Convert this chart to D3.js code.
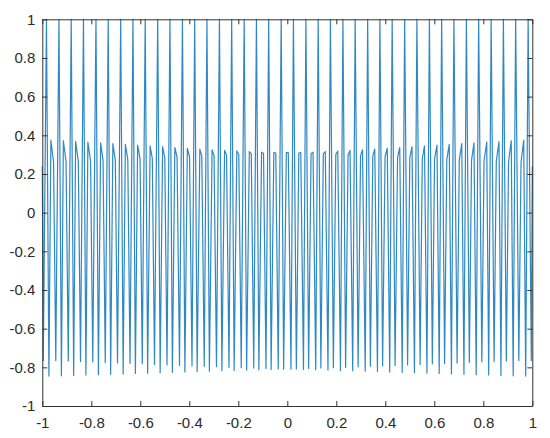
<!DOCTYPE html>
<html>
<head>
<meta charset="utf-8">
<script src="https://cdn.jsdelivr.net/npm/d3@7"></script>
<style>
  html, body { margin: 0; padding: 0; background: #ffffff; }
  svg { display: block; }
</style>
</head>
<body>
<svg id="chart" width="550" height="438"></svg>
<script>
// ---- data (data units) ----
const xTicks = [-1, -0.8, -0.6, -0.4, -0.2, 0, 0.2, 0.4, 0.6, 0.8, 1];
const yTicks = [-1, -0.8, -0.6, -0.4, -0.2, 0, 0.2, 0.4, 0.6, 0.8, 1];

// curve end points
const startPoint = [-1.0, 0.24];
const startTrough = [-0.996, -0.765];
const endTrough = [0.996, -0.765];
const endPoint = [1.0, 0.24];

// tall spikes (reach 1)
const peakX = [-0.983, -0.932, -0.882, -0.832, -0.781, -0.731, -0.680, -0.630, -0.580, -0.529,
               -0.479, -0.428, -0.378, -0.328, -0.277, -0.227, -0.176, -0.126, -0.076, -0.025,
                0.025,  0.076,  0.126,  0.176,  0.227,  0.277,  0.328,  0.378,  0.428,  0.479,
                0.529,  0.580,  0.630,  0.680,  0.731,  0.781,  0.832,  0.882,  0.932,  0.983];
const peakY = [1, 1, 1, 1, 1, 1, 1, 1, 1, 1, 1, 1, 1, 1, 1, 1, 1, 1, 1, 1,
               1, 1, 1, 1, 1, 1, 1, 1, 1, 1, 1, 1, 1, 1, 1, 1, 1, 1, 1, 1];

// first trough after each spike
const troughAX = [-0.973, -0.922, -0.872, -0.822, -0.771, -0.721, -0.670, -0.620, -0.570, -0.519,
                  -0.469, -0.418, -0.368, -0.318, -0.267, -0.217, -0.166, -0.116, -0.066, -0.015,
                   0.037,  0.087,  0.137,  0.188,  0.238,  0.289,  0.339,  0.389,  0.440,  0.491,
                   0.542,  0.592,  0.642,  0.693,  0.743,  0.794,  0.844,  0.894,  0.945];
const troughAY = [-0.845, -0.844, -0.842, -0.840, -0.838, -0.836, -0.834, -0.832, -0.830, -0.828,
                  -0.826, -0.824, -0.822, -0.820, -0.818, -0.816, -0.814, -0.812, -0.811, -0.810,
                  -0.808, -0.806, -0.804, -0.802, -0.800, -0.797, -0.795, -0.792, -0.790, -0.787,
                  -0.785, -0.782, -0.780, -0.777, -0.775, -0.772, -0.770, -0.767, -0.765];

// secondary hump: first top point
const secondAX = [-0.965, -0.914, -0.864, -0.814, -0.762, -0.712, -0.661, -0.611, -0.560, -0.509,
                  -0.459, -0.408, -0.357, -0.307, -0.256, -0.206, -0.155, -0.105, -0.055, -0.004,
                   0.047,  0.097,  0.147,  0.198,  0.248,  0.299,  0.349,  0.399,  0.450,  0.500,
                   0.551,  0.601,  0.651,  0.702,  0.752,  0.803,  0.853,  0.903,  0.954];
const secondAY = [0.375, 0.372, 0.368, 0.365, 0.361, 0.357, 0.353, 0.349, 0.345, 0.341,
                  0.337, 0.333, 0.329, 0.325, 0.322, 0.319, 0.316, 0.313, 0.311, 0.310,
                  0.308, 0.306, 0.304, 0.301, 0.298, 0.295, 0.292, 0.289, 0.286, 0.283,
                  0.280, 0.278, 0.275, 0.272, 0.270, 0.267, 0.265, 0.262, 0.260];

// secondary hump: second top point
const secondBX = [-0.954, -0.903, -0.853, -0.803, -0.752, -0.702, -0.651, -0.601, -0.551, -0.500,
                  -0.450, -0.399, -0.349, -0.299, -0.248, -0.198, -0.147, -0.097, -0.047,  0.004,
                   0.055,  0.105,  0.155,  0.206,  0.256,  0.307,  0.357,  0.408,  0.459,  0.509,
                   0.560,  0.611,  0.661,  0.712,  0.762,  0.814,  0.864,  0.914,  0.965];
const secondBY = [0.260, 0.262, 0.265, 0.267, 0.270, 0.272, 0.275, 0.278, 0.280, 0.283,
                  0.286, 0.289, 0.292, 0.295, 0.298, 0.301, 0.304, 0.306, 0.308, 0.310,
                  0.311, 0.313, 0.316, 0.319, 0.322, 0.325, 0.329, 0.333, 0.337, 0.341,
                  0.345, 0.349, 0.353, 0.357, 0.361, 0.365, 0.368, 0.372, 0.375];

// second trough before the next spike
const troughBX = [-0.945, -0.894, -0.844, -0.794, -0.743, -0.693, -0.642, -0.592, -0.542, -0.491,
                  -0.440, -0.389, -0.339, -0.289, -0.238, -0.188, -0.137, -0.087, -0.037,  0.015,
                   0.066,  0.116,  0.166,  0.217,  0.267,  0.318,  0.368,  0.418,  0.469,  0.519,
                   0.570,  0.620,  0.670,  0.721,  0.771,  0.822,  0.872,  0.922,  0.973];
const troughBY = [-0.765, -0.767, -0.770, -0.772, -0.775, -0.777, -0.780, -0.782, -0.785, -0.787,
                  -0.790, -0.792, -0.795, -0.797, -0.800, -0.802, -0.804, -0.806, -0.808, -0.810,
                  -0.811, -0.812, -0.814, -0.816, -0.818, -0.820, -0.822, -0.824, -0.826, -0.828,
                  -0.830, -0.832, -0.834, -0.836, -0.838, -0.840, -0.842, -0.844, -0.845];

// ---- build ordered point list ----
const pts = [startPoint, startTrough];
peakX.forEach((px, i) => {
  pts.push([px, peakY[i]]);
  if (i < troughAX.length) {
    pts.push([troughAX[i], troughAY[i]]);
    pts.push([secondAX[i], secondAY[i]]);
    pts.push([secondBX[i], secondBY[i]]);
    pts.push([troughBX[i], troughBY[i]]);
  }
});
pts.push(endTrough, endPoint);

// ---- layout ----
const svg = d3.select("#chart");
const plotLeft = 42.3, plotRight = 532.3, plotTop = 19.3, plotBottom = 406;
const x = d3.scaleLinear().domain([-1, 1]).range([plotLeft, plotRight]);
const y = d3.scaleLinear().domain([-1, 1]).range([plotBottom, plotTop]);

const axisColor = "#333333";
const fontFamily = "'Liberation Sans', Arial, Helvetica, sans-serif";

// line
const line = d3.line().x(d => x(d[0])).y(d => y(d[1])).curve(d3.curveLinear);
svg.append("path")
  .datum(pts)
  .attr("fill", "none")
  .attr("stroke", "#2f88c4")
  .attr("stroke-width", 1.2)
  .attr("stroke-linejoin", "round")
  .attr("d", line);

// axes (MATLAB style, ticks inside, box)
const tickLen = 5;
const fmt = d => String(d);
const axB = d3.axisBottom(x).tickValues(xTicks).tickSizeInner(-tickLen).tickSizeOuter(0).tickPadding(11.5).tickFormat(fmt);
const axT = d3.axisTop(x).tickValues(xTicks).tickSizeInner(-tickLen).tickSizeOuter(0).tickFormat("");
const axL = d3.axisLeft(y).tickValues(yTicks).tickSizeInner(-tickLen).tickSizeOuter(0).tickPadding(7).tickFormat(fmt);
const axR = d3.axisRight(y).tickValues(yTicks).tickSizeInner(-tickLen).tickSizeOuter(0).tickFormat("");

function styleAxis(g) {
  g.selectAll("path").attr("stroke", axisColor).attr("stroke-width", 1);
  g.selectAll("line").attr("stroke", axisColor).attr("stroke-width", 1);
  g.selectAll("text").attr("fill", "#2b2b2b").style("font-family", fontFamily).style("font-size", "15px");
}

svg.append("g").attr("transform", `translate(0,${plotBottom})`).call(axB).call(styleAxis);
svg.append("g").attr("transform", `translate(0,${plotTop})`).call(axT).call(styleAxis);
svg.append("g").attr("transform", `translate(${plotLeft},0)`).call(axL).call(styleAxis);
svg.append("g").attr("transform", `translate(${plotRight},0)`).call(axR).call(styleAxis);
</script>
</body>
</html>
